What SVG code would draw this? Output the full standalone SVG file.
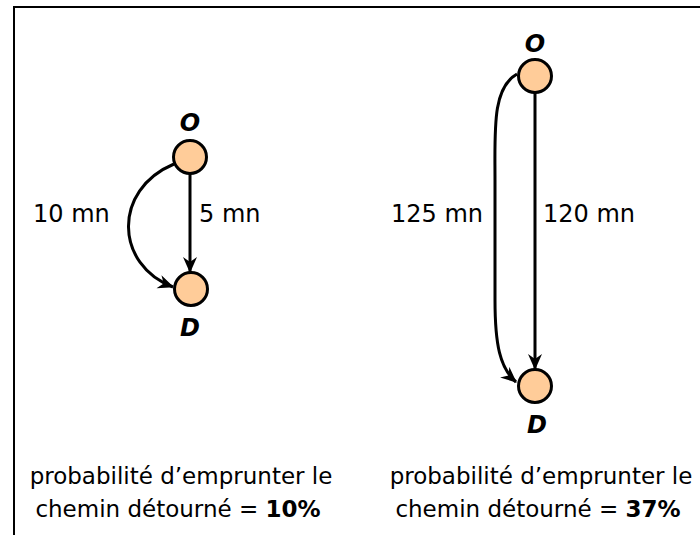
<svg xmlns="http://www.w3.org/2000/svg" width="700" height="535" viewBox="0 0 700 535">
<style>
.node{fill:#FFCC99;stroke:#000;stroke-width:3}
.nl{font-family:"DejaVu Sans",Verdana,sans-serif;font-size:24px;font-weight:bold;font-style:italic;text-anchor:middle;fill:#000}
.el{font-family:"DejaVu Sans",Verdana,sans-serif;font-size:24px;fill:#000}
.cap{font-family:"DejaVu Sans",Verdana,sans-serif;font-size:23px;text-anchor:middle;fill:#000}
.edge{fill:none;stroke:#000;stroke-width:3;marker-end:url(#arr)}
</style>
<defs>
<marker id="arr" viewBox="0 0 16 16" refX="15" refY="8" markerWidth="16" markerHeight="16" markerUnits="userSpaceOnUse" orient="auto">
<path d="M0,1 L16,8 L0,15 L5,8 Z" fill="#000"/>
</marker>
</defs>
<rect x="14" y="7" width="700" height="540" fill="#fff" stroke="#000" stroke-width="2"/>
<g id="connectors">
<path class="edge" d="M190,174 L190,272"/>
<path class="edge" d="M174,164 C112,190 115,265 173,287"/>
<path class="edge" d="M535,93 L535,369"/>
<path class="edge" d="M517,74 C492,88 495,130 495,180 L495,300 C495,345 500,368 516,382"/>
</g>
<g id="labels">
<text class="el" x="33" y="222">10 mn</text>
<text class="el" x="199" y="222">5 mn</text>
<text class="el" x="391" y="222">125 mn</text>
<text class="el" x="543" y="222">120 mn</text>
</g>
<g id="O1"><circle class="node" cx="190" cy="157" r="16.5"/><text class="nl" x="190" y="131">O</text></g>
<g id="D1"><circle class="node" cx="191" cy="289" r="16.5"/><text class="nl" x="190" y="336">D</text></g>
<g id="O2"><circle class="node" cx="535" cy="76" r="16.5"/><text class="nl" x="535" y="52">O</text></g>
<g id="D2"><circle class="node" cx="535" cy="386" r="16.5"/><text class="nl" x="537" y="433">D</text></g>
<g id="caption1">
<text class="cap" x="181" y="484">probabilité d’emprunter le</text>
<text class="cap" x="178" y="517">chemin détourné = <tspan font-weight="bold">10%</tspan></text>
</g>
<g id="caption2">
<text class="cap" x="541" y="484">probabilité d’emprunter le</text>
<text class="cap" x="538" y="517">chemin détourné = <tspan font-weight="bold">37%</tspan></text>
</g>
</svg>
